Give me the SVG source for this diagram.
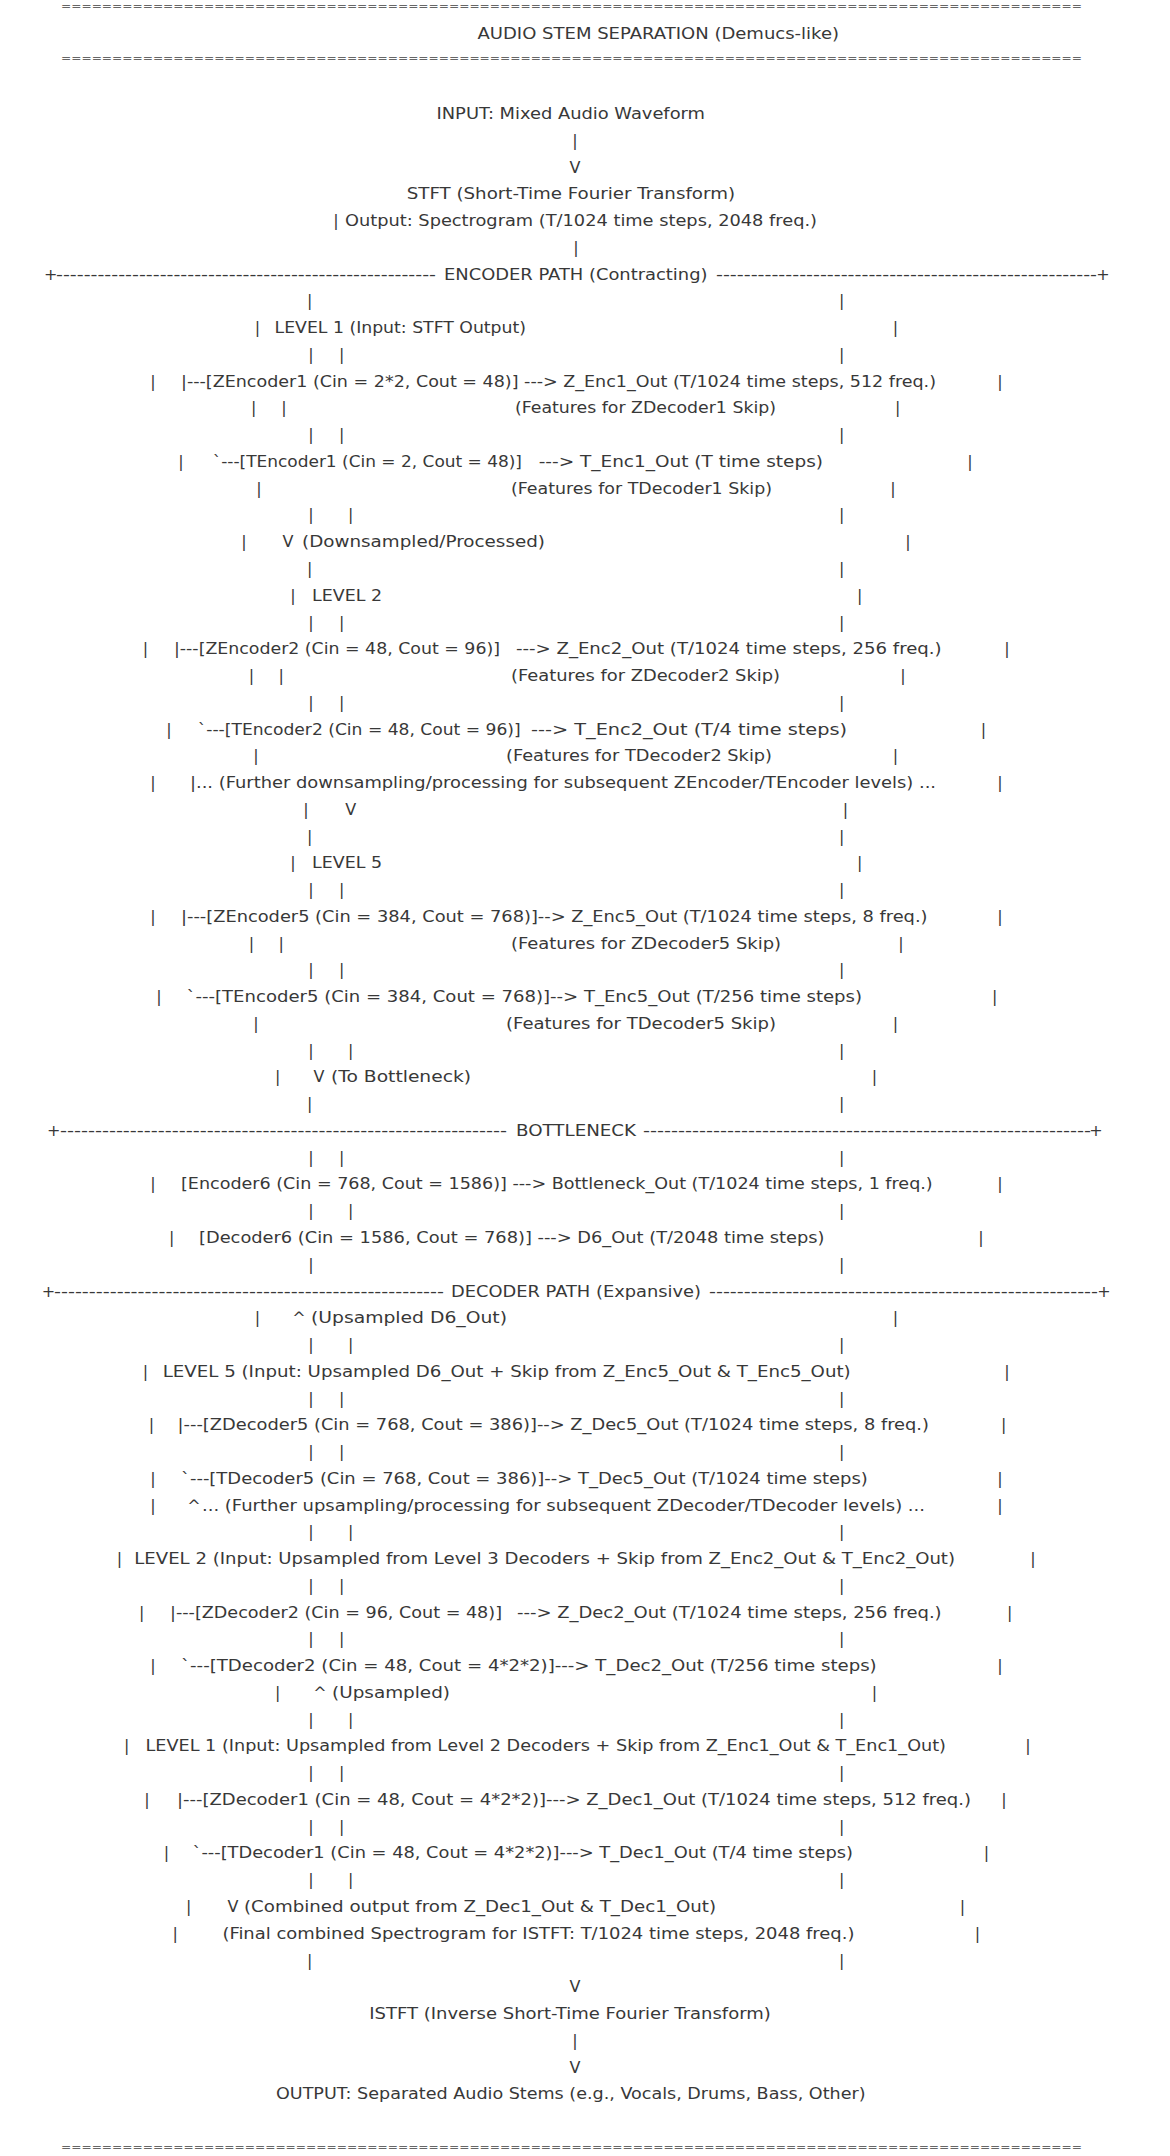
<svg xmlns="http://www.w3.org/2000/svg" width="1170" height="2156" viewBox="0 0 1170 2156">
<style>
text { font-family: "DejaVu Sans", "Liberation Sans", sans-serif; font-size: 16px; fill: #383838; }
.m { text-anchor: middle; }
.rule { fill: #666; font-size: 10px; }
</style>
<rect width="1170" height="2156" fill="#ffffff"/>
<g id="header">
<text class="rule" x="61" y="9.8" textLength="1021" lengthAdjust="spacingAndGlyphs">====================================================================================================</text>
<text x="477.5" y="38.8" textLength="361.5" lengthAdjust="spacingAndGlyphs">AUDIO STEM SEPARATION (Demucs-like)</text>
<text class="rule" x="61" y="61.5" textLength="1021" lengthAdjust="spacingAndGlyphs">====================================================================================================</text>
</g>
<g id="input"><text x="436.5" y="119" textLength="268.5" lengthAdjust="spacingAndGlyphs">INPUT: Mixed Audio Waveform</text></g>
<g id="stft">
<text x="406.7" y="199.3" textLength="328.3" lengthAdjust="spacingAndGlyphs">STFT (Short-Time Fourier Transform)</text>
<text x="345" y="226.1" textLength="472" lengthAdjust="spacingAndGlyphs">Output: Spectrogram (T/1024 time steps, 2048 freq.)</text>
</g>
<g id="encoder-banner">
<text class="m" x="50.7" y="279.6">+</text>
<text x="56" y="279.6" textLength="380" lengthAdjust="spacingAndGlyphs">-------------------------------------------------------</text>
<text x="444" y="279.6" textLength="263.5" lengthAdjust="spacingAndGlyphs">ENCODER PATH (Contracting)</text>
<text x="716" y="279.6" textLength="381" lengthAdjust="spacingAndGlyphs">-------------------------------------------------------</text>
<text class="m" x="1103" y="279.6">+</text>
</g>
<g id="enc-level1">
<text x="274.6" y="333.1" textLength="251.4" lengthAdjust="spacingAndGlyphs">LEVEL 1 (Input: STFT Output)</text>
<text x="181" y="386.6" textLength="755" lengthAdjust="spacingAndGlyphs">|---[ZEncoder1 (Cin = 2*2, Cout = 48)] ---&gt; Z_Enc1_Out (T/1024 time steps, 512 freq.)</text>
<text x="515" y="413.4" textLength="261" lengthAdjust="spacingAndGlyphs">(Features for ZDecoder1 Skip)</text>
<text x="212.7" y="466.9" textLength="309.3" lengthAdjust="spacingAndGlyphs">`---[TEncoder1 (Cin = 2, Cout = 48)]</text>
<text x="538.7" y="466.9" textLength="284.3" lengthAdjust="spacingAndGlyphs">---&gt; T_Enc1_Out (T time steps)</text>
<text x="511" y="493.7" textLength="261" lengthAdjust="spacingAndGlyphs">(Features for TDecoder1 Skip)</text>
<text x="302" y="547.2" textLength="243" lengthAdjust="spacingAndGlyphs">(Downsampled/Processed)</text>
</g>
<g id="enc-level2">
<text x="312" y="600.7" textLength="70" lengthAdjust="spacingAndGlyphs">LEVEL 2</text>
<text x="174" y="654.2" textLength="326" lengthAdjust="spacingAndGlyphs">|---[ZEncoder2 (Cin = 48, Cout = 96)]</text>
<text x="516" y="654.2" textLength="425.6" lengthAdjust="spacingAndGlyphs">---&gt; Z_Enc2_Out (T/1024 time steps, 256 freq.)</text>
<text x="511" y="681" textLength="269" lengthAdjust="spacingAndGlyphs">(Features for ZDecoder2 Skip)</text>
<text x="197.7" y="734.5" textLength="323" lengthAdjust="spacingAndGlyphs">`---[TEncoder2 (Cin = 48, Cout = 96)]</text>
<text x="531" y="734.5" textLength="316" lengthAdjust="spacingAndGlyphs">---&gt; T_Enc2_Out (T/4 time steps)</text>
<text x="506" y="761.3" textLength="266" lengthAdjust="spacingAndGlyphs">(Features for TDecoder2 Skip)</text>
<text x="190" y="788" textLength="746" lengthAdjust="spacingAndGlyphs">|... (Further downsampling/processing for subsequent ZEncoder/TEncoder levels) ...</text>
</g>
<g id="enc-level5">
<text x="312" y="868.3" textLength="70" lengthAdjust="spacingAndGlyphs">LEVEL 5</text>
<text x="181" y="921.8" textLength="746.5" lengthAdjust="spacingAndGlyphs">|---[ZEncoder5 (Cin = 384, Cout = 768)]--&gt; Z_Enc5_Out (T/1024 time steps, 8 freq.)</text>
<text x="511" y="948.6" textLength="270" lengthAdjust="spacingAndGlyphs">(Features for ZDecoder5 Skip)</text>
<text x="186.5" y="1002.1" textLength="675.5" lengthAdjust="spacingAndGlyphs">`---[TEncoder5 (Cin = 384, Cout = 768)]--&gt; T_Enc5_Out (T/256 time steps)</text>
<text x="506" y="1028.9" textLength="270" lengthAdjust="spacingAndGlyphs">(Features for TDecoder5 Skip)</text>
<text x="331" y="1082.4" textLength="140" lengthAdjust="spacingAndGlyphs">(To Bottleneck)</text>
</g>
<g id="bottleneck">
<text class="m" x="53.7" y="1135.9">+</text>
<text x="60" y="1135.9" textLength="447" lengthAdjust="spacingAndGlyphs">----------------------------------------------------------------</text>
<text x="516" y="1135.9" textLength="120" lengthAdjust="spacingAndGlyphs">BOTTLENECK</text>
<text x="643" y="1135.9" textLength="448" lengthAdjust="spacingAndGlyphs">----------------------------------------------------------------</text>
<text class="m" x="1096" y="1135.9">+</text>
<text x="181" y="1189.4" textLength="751.7" lengthAdjust="spacingAndGlyphs">[Encoder6 (Cin = 768, Cout = 1586)] ---&gt; Bottleneck_Out (T/1024 time steps, 1 freq.)</text>
<text x="199" y="1243" textLength="625.5" lengthAdjust="spacingAndGlyphs">[Decoder6 (Cin = 1586, Cout = 768)] ---&gt; D6_Out (T/2048 time steps)</text>
</g>
<g id="decoder-banner">
<text class="m" x="48.5" y="1296.5">+</text>
<text x="54" y="1296.5" textLength="390" lengthAdjust="spacingAndGlyphs">--------------------------------------------------------</text>
<text x="451" y="1296.5" textLength="250" lengthAdjust="spacingAndGlyphs">DECODER PATH (Expansive)</text>
<text x="709" y="1296.5" textLength="389" lengthAdjust="spacingAndGlyphs">--------------------------------------------------------</text>
<text class="m" x="1104" y="1296.5">+</text>
<text x="311" y="1323.2" textLength="196" lengthAdjust="spacingAndGlyphs">(Upsampled D6_Out)</text>
</g>
<g id="dec-level5">
<text x="162.7" y="1376.8" textLength="688" lengthAdjust="spacingAndGlyphs">LEVEL 5 (Input: Upsampled D6_Out + Skip from Z_Enc5_Out &amp; T_Enc5_Out)</text>
<text x="177.6" y="1430.3" textLength="751.4" lengthAdjust="spacingAndGlyphs">|---[ZDecoder5 (Cin = 768, Cout = 386)]--&gt; Z_Dec5_Out (T/1024 time steps, 8 freq.)</text>
<text x="181" y="1483.8" textLength="686.8" lengthAdjust="spacingAndGlyphs">`---[TDecoder5 (Cin = 768, Cout = 386)]--&gt; T_Dec5_Out (T/1024 time steps)</text>
<text x="202" y="1510.6" textLength="723" lengthAdjust="spacingAndGlyphs">... (Further upsampling/processing for subsequent ZDecoder/TDecoder levels) ...</text>
</g>
<g id="dec-level2">
<text x="134.3" y="1564.1" textLength="820.7" lengthAdjust="spacingAndGlyphs">LEVEL 2 (Input: Upsampled from Level 3 Decoders + Skip from Z_Enc2_Out &amp; T_Enc2_Out)</text>
<text x="170" y="1617.6" textLength="332" lengthAdjust="spacingAndGlyphs">|---[ZDecoder2 (Cin = 96, Cout = 48)]</text>
<text x="517" y="1617.6" textLength="424.6" lengthAdjust="spacingAndGlyphs">---&gt; Z_Dec2_Out (T/1024 time steps, 256 freq.)</text>
<text x="181" y="1671.1" textLength="695.7" lengthAdjust="spacingAndGlyphs">`---[TDecoder2 (Cin = 48, Cout = 4*2*2)]---&gt; T_Dec2_Out (T/256 time steps)</text>
<text x="332" y="1697.9" textLength="118" lengthAdjust="spacingAndGlyphs">(Upsampled)</text>
</g>
<g id="dec-level1">
<text x="145.5" y="1751.4" textLength="800.5" lengthAdjust="spacingAndGlyphs">LEVEL 1 (Input: Upsampled from Level 2 Decoders + Skip from Z_Enc1_Out &amp; T_Enc1_Out)</text>
<text x="177" y="1804.9" textLength="794" lengthAdjust="spacingAndGlyphs">|---[ZDecoder1 (Cin = 48, Cout = 4*2*2)]---&gt; Z_Dec1_Out (T/1024 time steps, 512 freq.)</text>
<text x="192.5" y="1858.4" textLength="660.5" lengthAdjust="spacingAndGlyphs">`---[TDecoder1 (Cin = 48, Cout = 4*2*2)]---&gt; T_Dec1_Out (T/4 time steps)</text>
</g>
<g id="combine">
<text x="244" y="1912" textLength="472" lengthAdjust="spacingAndGlyphs">(Combined output from Z_Dec1_Out &amp; T_Dec1_Out)</text>
<text x="222.4" y="1938.7" textLength="632" lengthAdjust="spacingAndGlyphs">(Final combined Spectrogram for ISTFT: T/1024 time steps, 2048 freq.)</text>
</g>
<g id="istft"><text x="369.3" y="2019" textLength="401.5" lengthAdjust="spacingAndGlyphs">ISTFT (Inverse Short-Time Fourier Transform)</text></g>
<g id="output"><text x="276" y="2099.3" textLength="589.5" lengthAdjust="spacingAndGlyphs">OUTPUT: Separated Audio Stems (e.g., Vocals, Drums, Bass, Other)</text></g>
<g id="footer"><text class="rule" x="61" y="2150.5" textLength="1021" lengthAdjust="spacingAndGlyphs">====================================================================================================</text></g>
<g id="connectors">
<text class="m" x="575" y="145.8">|</text><text class="m" x="575" y="172.6">V</text>
<text class="m" x="336" y="226.1">|</text>
<text class="m" x="576" y="252.8">|</text>
<text class="m" x="309.7" y="306.4">|</text><text class="m" x="841.7" y="306.4">|</text>
<text class="m" x="257.4" y="333.1">|</text><text class="m" x="895.4" y="333.1">|</text>
<text class="m" x="311" y="359.9">|</text><text class="m" x="341.7" y="359.9">|</text><text class="m" x="841.7" y="359.9">|</text>
<text class="m" x="153" y="386.6">|</text><text class="m" x="1000" y="386.6">|</text>
<text class="m" x="253.7" y="413.4">|</text><text class="m" x="284" y="413.4">|</text><text class="m" x="897.6" y="413.4">|</text>
<text class="m" x="311" y="440.2">|</text><text class="m" x="341.7" y="440.2">|</text><text class="m" x="841.7" y="440.2">|</text>
<text class="m" x="181" y="466.9">|</text><text class="m" x="970" y="466.9">|</text>
<text class="m" x="259" y="493.7">|</text><text class="m" x="893" y="493.7">|</text>
<text class="m" x="311" y="520.4">|</text><text class="m" x="350.7" y="520.4">|</text><text class="m" x="841.7" y="520.4">|</text>
<text class="m" x="244" y="547.2">|</text><text class="m" x="288" y="547.2">V</text><text class="m" x="908" y="547.2">|</text>
<text class="m" x="309.7" y="574">|</text><text class="m" x="841.7" y="574">|</text>
<text class="m" x="293" y="600.7">|</text><text class="m" x="859.6" y="600.7">|</text>
<text class="m" x="311" y="627.5">|</text><text class="m" x="341.7" y="627.5">|</text><text class="m" x="841.7" y="627.5">|</text>
<text class="m" x="145.5" y="654.2">|</text><text class="m" x="1007" y="654.2">|</text>
<text class="m" x="251.5" y="681">|</text><text class="m" x="281.3" y="681">|</text><text class="m" x="903" y="681">|</text>
<text class="m" x="311" y="707.8">|</text><text class="m" x="341.7" y="707.8">|</text><text class="m" x="841.7" y="707.8">|</text>
<text class="m" x="169" y="734.5">|</text><text class="m" x="983.4" y="734.5">|</text>
<text class="m" x="256" y="761.3">|</text><text class="m" x="895.4" y="761.3">|</text>
<text class="m" x="153" y="788">|</text><text class="m" x="1000" y="788">|</text>
<text class="m" x="306" y="814.8">|</text><text class="m" x="350.7" y="814.8">V</text><text class="m" x="845.4" y="814.8">|</text>
<text class="m" x="309.7" y="841.6">|</text><text class="m" x="841.7" y="841.6">|</text>
<text class="m" x="293" y="868.3">|</text><text class="m" x="859.6" y="868.3">|</text>
<text class="m" x="311" y="895.1">|</text><text class="m" x="341.7" y="895.1">|</text><text class="m" x="841.7" y="895.1">|</text>
<text class="m" x="153" y="921.8">|</text><text class="m" x="1000" y="921.8">|</text>
<text class="m" x="251.5" y="948.6">|</text><text class="m" x="281.3" y="948.6">|</text><text class="m" x="901" y="948.6">|</text>
<text class="m" x="311" y="975.4">|</text><text class="m" x="341.7" y="975.4">|</text><text class="m" x="841.7" y="975.4">|</text>
<text class="m" x="159" y="1002.1">|</text><text class="m" x="994.6" y="1002.1">|</text>
<text class="m" x="256" y="1028.9">|</text><text class="m" x="895.4" y="1028.9">|</text>
<text class="m" x="311" y="1055.6">|</text><text class="m" x="350.7" y="1055.6">|</text><text class="m" x="841.7" y="1055.6">|</text>
<text class="m" x="277.6" y="1082.4">|</text><text class="m" x="319" y="1082.4">V</text><text class="m" x="874.5" y="1082.4">|</text>
<text class="m" x="309.7" y="1109.2">|</text><text class="m" x="841.7" y="1109.2">|</text>
<text class="m" x="311" y="1162.7">|</text><text class="m" x="341.7" y="1162.7">|</text><text class="m" x="841.7" y="1162.7">|</text>
<text class="m" x="153" y="1189.4">|</text><text class="m" x="1000" y="1189.4">|</text>
<text class="m" x="311" y="1216.2">|</text><text class="m" x="350.7" y="1216.2">|</text><text class="m" x="841.7" y="1216.2">|</text>
<text class="m" x="171.6" y="1243">|</text><text class="m" x="981" y="1243">|</text>
<text class="m" x="311" y="1269.7">|</text><text class="m" x="841.7" y="1269.7">|</text>
<text class="m" x="257.4" y="1323.2">|</text><text class="m" x="299" y="1323.2">^</text><text class="m" x="895.4" y="1323.2">|</text>
<text class="m" x="311" y="1350">|</text><text class="m" x="350.7" y="1350">|</text><text class="m" x="841.7" y="1350">|</text>
<text class="m" x="145.5" y="1376.8">|</text><text class="m" x="1007" y="1376.8">|</text>
<text class="m" x="311" y="1403.5">|</text><text class="m" x="341.7" y="1403.5">|</text><text class="m" x="841.7" y="1403.5">|</text>
<text class="m" x="151.5" y="1430.3">|</text><text class="m" x="1003.6" y="1430.3">|</text>
<text class="m" x="311" y="1457">|</text><text class="m" x="341.7" y="1457">|</text><text class="m" x="841.7" y="1457">|</text>
<text class="m" x="153" y="1483.8">|</text><text class="m" x="1000" y="1483.8">|</text>
<text class="m" x="153" y="1510.6">|</text><text class="m" x="194" y="1510.6">^</text><text class="m" x="1000" y="1510.6">|</text>
<text class="m" x="311" y="1537.3">|</text><text class="m" x="350.7" y="1537.3">|</text><text class="m" x="841.7" y="1537.3">|</text>
<text class="m" x="119.4" y="1564.1">|</text><text class="m" x="1033" y="1564.1">|</text>
<text class="m" x="311" y="1590.8">|</text><text class="m" x="341.7" y="1590.8">|</text><text class="m" x="841.7" y="1590.8">|</text>
<text class="m" x="141.8" y="1617.6">|</text><text class="m" x="1009.6" y="1617.6">|</text>
<text class="m" x="311" y="1644.4">|</text><text class="m" x="341.7" y="1644.4">|</text><text class="m" x="841.7" y="1644.4">|</text>
<text class="m" x="153" y="1671.1">|</text><text class="m" x="1000" y="1671.1">|</text>
<text class="m" x="277.6" y="1697.9">|</text><text class="m" x="320" y="1697.9">^</text><text class="m" x="874.5" y="1697.9">|</text>
<text class="m" x="311" y="1724.6">|</text><text class="m" x="350.7" y="1724.6">|</text><text class="m" x="841.7" y="1724.6">|</text>
<text class="m" x="126.8" y="1751.4">|</text><text class="m" x="1028" y="1751.4">|</text>
<text class="m" x="311" y="1778.2">|</text><text class="m" x="341.7" y="1778.2">|</text><text class="m" x="841.7" y="1778.2">|</text>
<text class="m" x="147" y="1804.9">|</text><text class="m" x="1004" y="1804.9">|</text>
<text class="m" x="311" y="1831.7">|</text><text class="m" x="341.7" y="1831.7">|</text><text class="m" x="841.7" y="1831.7">|</text>
<text class="m" x="166.4" y="1858.4">|</text><text class="m" x="986.4" y="1858.4">|</text>
<text class="m" x="311" y="1885.2">|</text><text class="m" x="350.7" y="1885.2">|</text><text class="m" x="841.7" y="1885.2">|</text>
<text class="m" x="188.8" y="1912">|</text><text class="m" x="233" y="1912">V</text><text class="m" x="962.5" y="1912">|</text>
<text class="m" x="175.3" y="1938.7">|</text><text class="m" x="977.5" y="1938.7">|</text>
<text class="m" x="309.7" y="1965.5">|</text><text class="m" x="841.7" y="1965.5">|</text>
<text class="m" x="575" y="1992.2">V</text>
<text class="m" x="575" y="2045.8">|</text>
<text class="m" x="575" y="2072.5">V</text>
</g>
</svg>
